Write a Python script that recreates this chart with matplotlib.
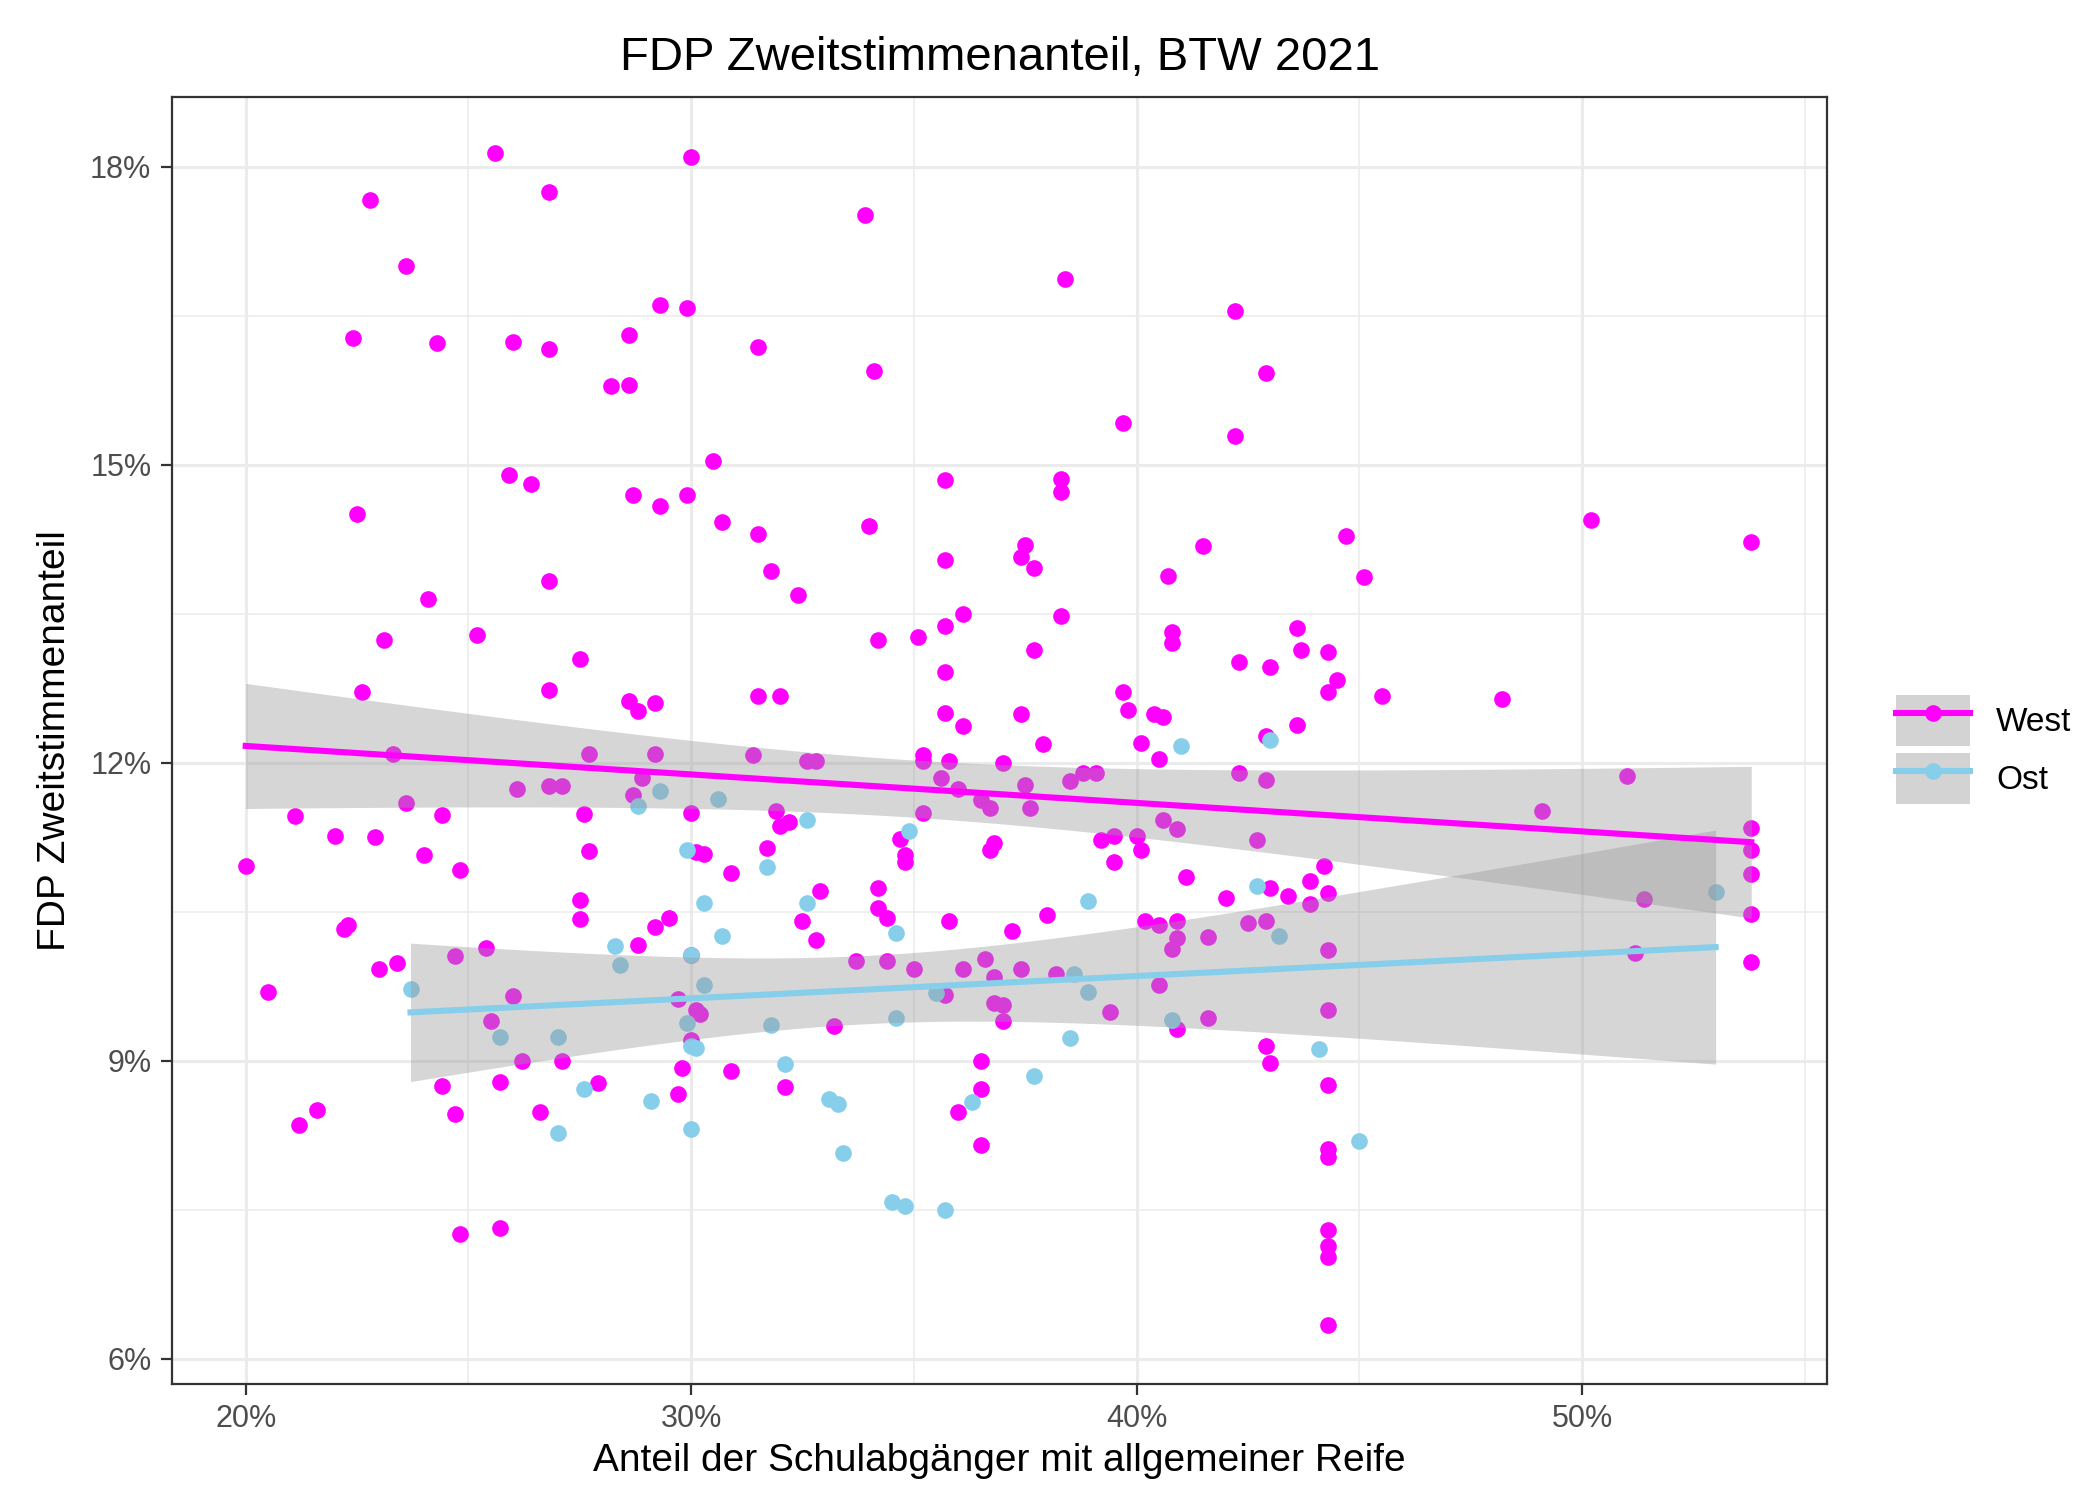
import numpy as np
import matplotlib.pyplot as plt
from matplotlib.lines import Line2D
from matplotlib.patches import Patch
from matplotlib.ticker import FuncFormatter, MultipleLocator

plt.rcParams['font.family'] = ['Liberation Sans', 'DejaVu Sans']

west = [(20.0,10.96),(20.5,9.69),(21.1,11.46),(21.2,8.35),(21.6,8.50),(22.0,11.26),(22.2,10.33),(22.3,10.37),
(22.4,16.28),(22.5,14.51),(22.6,12.71),(22.8,17.67),(22.9,11.25),(23.0,9.92),(23.1,13.24),(23.3,12.09),
(23.4,9.98),(23.6,17.0),(23.6,11.6),(24.0,11.07),(24.1,13.65),(24.3,16.23),(24.4,11.47),(24.4,8.75),
(24.7,8.46),(24.8,10.92),(24.8,7.26),(24.7,10.06),(25.2,13.29),(25.4,10.14),(25.5,9.40),(25.6,18.14),
(25.7,8.79),(25.7,7.32),(25.9,14.9),(26.0,16.24),(26.0,9.65),(26.1,11.74),(26.2,9.0),(26.4,14.81),
(26.6,8.48),(26.8,13.83),(26.8,17.75),(26.8,16.17),(26.8,12.73),(26.8,11.77),(27.1,11.77),(27.1,9.0),
(27.5,13.05),(27.5,10.62),(27.5,10.43),(27.6,11.48),(27.7,11.11),(27.7,12.09),(27.9,8.78),(28.2,15.79),
(28.6,15.80),(28.6,16.31),(28.6,12.62),(28.7,11.68),(28.7,14.70),(28.8,12.52),(28.8,10.17),(28.9,11.85),
(29.2,12.09),(29.2,12.6),(29.2,10.35),(29.3,16.61),(29.3,14.59),(29.5,10.44),(29.7,9.62),(29.7,8.67),
(29.8,8.93),(29.9,16.58),(29.9,14.7),(30.0,18.1),(30.0,11.5),(30.0,10.07),(30.0,9.21),(30.1,9.51),
(30.2,9.47),(30.1,11.1),(30.3,11.08),(30.5,15.04),(30.7,14.43),(30.9,10.89),(30.9,8.9),(31.4,12.08),
(31.5,12.67),(31.5,16.19),(31.5,14.3),(31.7,11.14),(31.8,13.93),(31.9,11.52),(32.0,12.67),(32.0,11.36),
(32.2,11.40),(32.1,8.74),(32.4,13.69),(32.5,10.41),(32.6,12.02),(32.8,12.02),(32.8,10.22),(32.9,10.71),
(33.2,9.35),(33.7,10.0),(33.9,17.52),(34.0,14.38),(34.1,15.95),(34.2,10.54),(34.2,10.74),(34.2,13.24),
(34.4,10.44),(34.4,10.0),(34.7,11.23),(34.8,11.07),(34.8,11.0),(35.0,9.92),(35.1,13.27),(35.2,12.08),
(35.2,12.02),(35.2,11.5),(35.6,11.85),(35.7,14.85),(35.7,14.04),(35.7,13.38),(35.7,12.91),(35.7,12.5),
(35.7,9.66),(35.8,12.02),(35.8,10.41),(36.0,11.74),(36.0,8.48),(36.1,13.5),(36.1,12.37),(36.1,9.92),
(36.5,11.63),(36.5,9.0),(36.5,8.72),(36.5,8.15),(36.6,10.03),(36.7,11.55),(36.7,11.12),(36.8,11.19),
(36.8,9.58),(36.8,9.84),(37.0,12.0),(37.0,9.56),(37.0,9.4),(37.2,10.31),(37.4,9.92),(37.4,14.07),
(37.4,12.49),(37.5,11.78),(37.5,14.19),(37.6,11.55),(37.7,13.96),(37.7,13.14),(37.9,12.19),(38.0,10.47),
(38.2,9.87),(38.3,14.86),(38.3,14.73),(38.3,13.48),(38.4,16.87),(38.5,11.82),(38.8,11.9),(39.1,11.9),
(39.2,11.22),(39.4,9.49),(39.5,11.0),(39.5,11.26),(39.7,15.42),(39.7,12.71),(39.8,12.53),(40.0,11.26),
(40.1,12.2),(40.1,11.12),(40.2,10.41),(40.4,12.49),(40.5,12.04),(40.5,9.76),(40.5,10.37),(40.6,12.46),
(40.6,11.42),(40.7,13.88),(40.8,13.32),(40.8,13.21),(40.8,10.13),(40.9,11.33),(40.9,10.24),(40.9,10.41),
(40.9,9.32),(41.1,10.85),(41.5,14.18),(41.6,10.25),(41.6,9.43),(42.0,10.64),(42.2,16.55),(42.2,15.29),
(42.3,13.02),(42.3,11.9),(42.5,10.39),(42.7,11.22),(42.9,15.93),(42.9,12.27),(42.9,11.83),(42.9,10.41),
(42.9,9.15),(43.0,12.97),(43.0,10.74),(43.0,8.98),(43.4,10.66),(43.6,13.36),(43.6,12.38),(43.7,13.14),
(43.9,10.81),(43.9,10.58),(44.2,10.96),(44.3,13.12),(44.3,12.71),(44.3,10.69),(44.3,10.12),(44.3,9.51),
(44.3,8.76),(44.3,8.11),(44.3,8.03),(44.3,7.30),(44.3,7.14),(44.3,7.02),(44.3,6.34),(44.5,12.83),
(44.7,14.28),(45.1,13.87),(45.5,12.67),(48.2,12.64),(49.1,11.52),(50.2,14.45),(51.0,11.87),(51.2,10.09),
(51.4,10.63),(53.8,14.22),(53.8,11.34),(53.8,11.12),(53.8,10.88),(53.8,10.48),(53.8,9.99)]

ost = [(23.7,9.72),(25.7,9.24),(27.0,9.24),(27.0,8.27),(27.6,8.72),(28.3,10.16),(28.4,9.96),(28.8,11.57),
(29.3,11.72),(29.1,8.6),(29.9,11.12),(29.9,9.38),(30.0,10.07),(30.0,9.15),(30.1,9.13),(30.0,8.31),
(30.3,10.59),(30.3,9.76),(30.6,11.64),(30.7,10.26),(31.7,10.95),(31.8,9.36),(32.1,8.97),(32.6,11.42),
(32.6,10.59),(33.1,8.62),(33.3,8.56),(33.4,8.07),(34.5,7.58),(34.8,7.54),(34.6,9.43),(34.6,10.29),
(34.9,11.31),(35.7,7.5),(35.5,9.68),(36.3,8.59),(37.7,8.85),(38.5,9.23),(38.6,9.87),(38.9,10.61),
(38.9,9.69),(40.8,9.41),(41.0,12.17),(42.7,10.76),(43.0,12.23),(43.2,10.26),(44.1,9.12),(45.0,8.19),
(53.0,10.7)]

groups = ["West", "Ost"]
colors = {"West": "#FF00FF", "Ost": "#87CEEB"}
data = {"West": np.array(west), "Ost": np.array(ost)}

fig = plt.figure(figsize=(10.5, 7.495), dpi=200)
ax = fig.add_axes([0.082, 0.077, 0.788, 0.858])

for g in groups:
    d = data[g]
    ax.scatter(d[:, 0], d[:, 1], s=36, color=colors[g], linewidths=0, zorder=2)

# lineare Regression mit 95%-Konfidenzband (wie geom_smooth(method="lm"))
for g in groups:
    x, y = data[g][:, 0], data[g][:, 1]
    b, a = np.polyfit(x, y, 1)
    n = len(x)
    res = y - (a + b * x)
    s = np.sqrt(np.sum(res ** 2) / (n - 2))
    xs = np.linspace(x.min(), x.max(), 100)
    se = s * np.sqrt(1 / n + (xs - x.mean()) ** 2 / np.sum((x - x.mean()) ** 2))
    t = 1.97
    fit = a + b * xs
    ax.fill_between(xs, fit - t * se, fit + t * se, color="#999999", alpha=0.4, linewidth=0, zorder=3)
    ax.plot(xs, fit, color=colors[g], lw=2.2, zorder=4)

ax.set_xlim(18.35, 55.5)
ax.set_ylim(5.75, 18.7)
ax.xaxis.set_major_locator(MultipleLocator(10))
ax.xaxis.set_minor_locator(MultipleLocator(5))
ax.yaxis.set_major_locator(MultipleLocator(3))
ax.yaxis.set_minor_locator(MultipleLocator(1.5))
ax.xaxis.set_major_formatter(FuncFormatter(lambda v, p: f"{v:.0f}%"))
ax.yaxis.set_major_formatter(FuncFormatter(lambda v, p: f"{v:.0f}%"))
ax.grid(which="major", color="#EBEBEB", lw=1.1)
ax.grid(which="minor", color="#EBEBEB", lw=0.55)
ax.set_axisbelow(True)
ax.tick_params(which="major", length=4, color="#333333", labelsize=11, labelcolor="#4D4D4D")
ax.tick_params(which="minor", length=0)
for sp in ax.spines.values():
    sp.set_color("#333333")
    sp.set_linewidth(0.8)

ax.set_xlabel("Anteil der Schulabgänger mit allgemeiner Reife", fontsize=14, labelpad=3)
ax.set_ylabel("FDP Zweitstimmenanteil", fontsize=14, labelpad=6)
ax.set_title("FDP Zweitstimmenanteil, BTW 2021", fontsize=17, pad=10)

handles = [(Patch(facecolor="#D3D3D3", edgecolor="none"),
            Line2D([], [], color=colors[g], lw=2.2, marker="o", markersize=6, markeredgewidth=0))
           for g in groups]
fig.legend(handles, groups, loc="center left", bbox_to_anchor=(0.895, 0.5), frameon=False,
           fontsize=12, handlelength=2.2, handleheight=2.0, labelspacing=0.2, borderpad=0)

fig.savefig("out.png", dpi=200)
